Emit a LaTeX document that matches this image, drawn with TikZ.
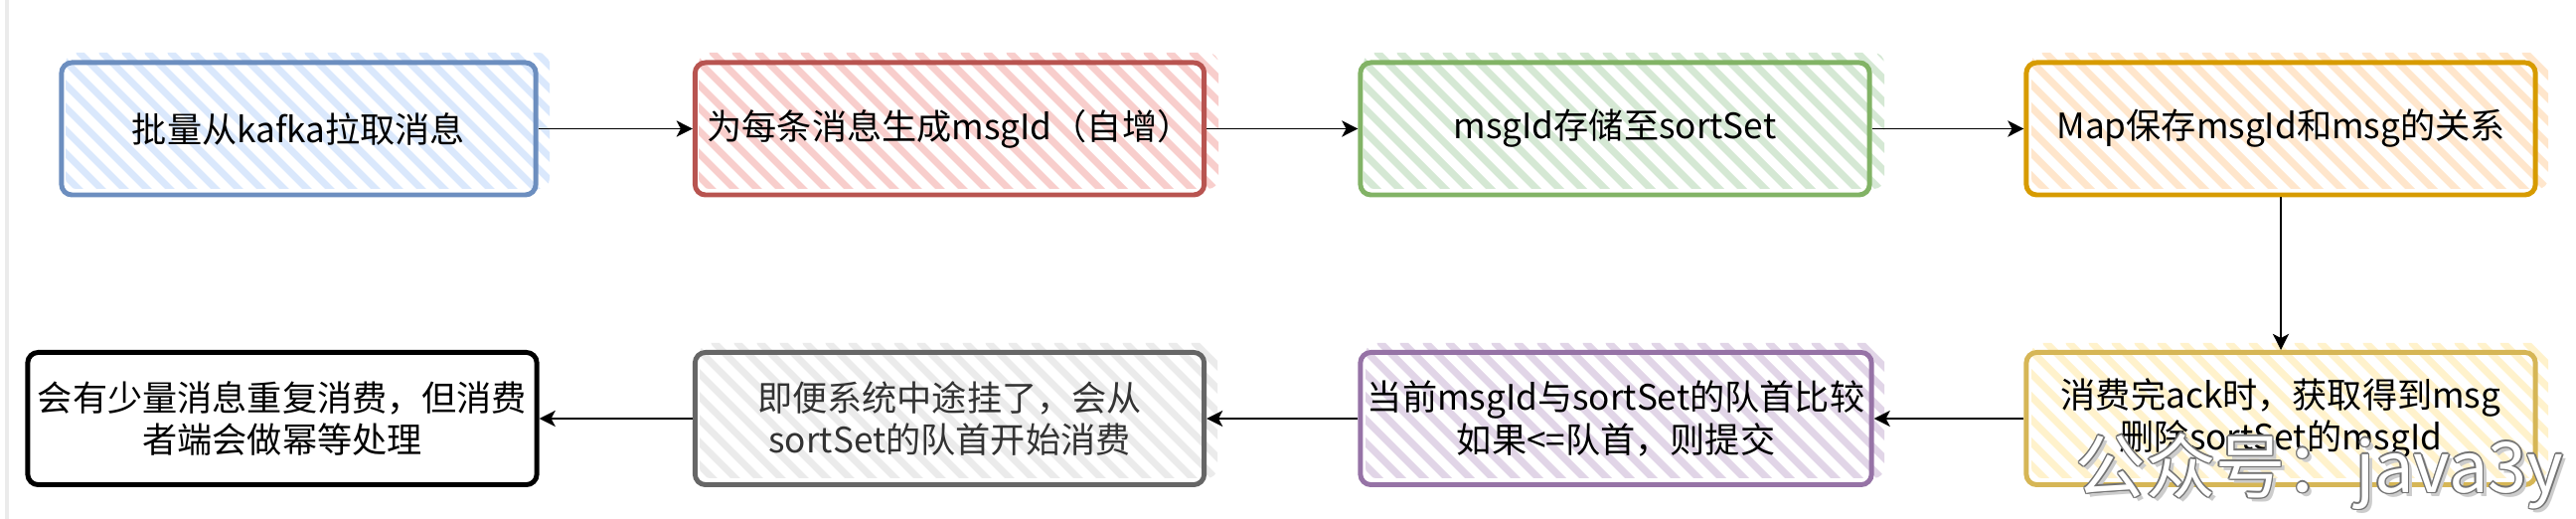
\documentclass[tikz,border=0pt]{standalone}
\usepackage{fontspec}
\newfontfamily\cjk{Noto Sans CJK SC}
\usetikzlibrary{arrows.meta}

\definecolor{blueFill}{HTML}{DAE8FC}\definecolor{blueLine}{HTML}{6C8EBF}
\definecolor{redFill}{HTML}{F8CECC}\definecolor{redLine}{HTML}{B85450}
\definecolor{greenFill}{HTML}{D5E8D4}\definecolor{greenLine}{HTML}{82B366}
\definecolor{orangeFill}{HTML}{FFE6CC}\definecolor{orangeLine}{HTML}{D79B00}
\definecolor{yellowFill}{HTML}{FFF2CC}\definecolor{yellowLine}{HTML}{D6B656}
\definecolor{purpleFill}{HTML}{E1D5E7}\definecolor{purpleLine}{HTML}{9673A6}
\definecolor{grayFill}{HTML}{EBEBEB}\definecolor{grayLine}{HTML}{666666}
\definecolor{grayText}{HTML}{333333}

% hatch behind a box: (left,top)(right,bottom){colour}
\def\hatchbox(#1,#2)(#3,#4)#5{%
  \begin{scope}
    \clip[rounded corners=3pt] ({#1+4},{#2-10}) rectangle ({#3+14},{#4-6});
    \foreach \i in {0,...,32}
      \draw[hatch, #5] ({#1-#4+23*\i+#2-10},{#2-10}) -- ({#1+23*\i},{#4});
  \end{scope}}

\tikzset{
  box/.style={draw, rounded corners=3pt, line width=1.4pt, minimum height=1.33cm,
    minimum width=5.12cm, align=center, inner sep=2pt, font=\cjk\fontsize{10}{12}\selectfont},
  flow/.style={-{Stealth[length=4.6pt,width=4.6pt,inset=1.2pt]}, line width=0.55pt},
  hatch/.style={line width=2pt, line cap=round},
  wmark/.style={font=\cjk\fontsize{20}{20}\selectfont, inner sep=0pt},
}

\begin{document}
\begin{tikzpicture}[x=0.01cm, y=-0.01cm]
  %%%%% START %%%%%
  \useasboundingbox (0,0) rectangle (2592,522);
  \draw[black!8, line width=1pt] (7,0) -- (7,522);

  \hatchbox(62,63)(539,196){blueFill}
  \hatchbox(699,63)(1212,196){redFill}
  \hatchbox(1368,63)(1882,196){greenFill}
  \hatchbox(2040,63)(2550,196){orangeFill}

  \hatchbox(700,355)(1211,487){grayFill}
  \hatchbox(1370,355)(1882,487){purpleFill}
  \hatchbox(2040,355)(2550,487){yellowFill}

  % top row
  \node[box, draw=blueLine, minimum width=4.77cm] (kafka) at (300.5,129.5) {批量从kafka拉取消息};
  \node[box, draw=redLine] (genid) at (955.5,129.5) {为每条消息生成msgId（自增）};
  \node[box, draw=greenLine] (store) at (1625,129.5) {msgId存储至sortSet};
  \node[box, draw=orangeLine] (mapsave) at (2295,129.5) {Map保存msgId和msg的关系};

  % bottom row
  \node[box, draw=yellowLine] (ack) at (2295,421) {消费完ack时，获取得到msg\\删除sortSet的msgId};
  \node[box, draw=purpleLine] (compare) at (1626,421) {当前msgId与sortSet的队首比较\\如果<=队首，则提交};
  \node[box, draw=grayLine, text=grayText] (restart) at (955.5,421) {即便系统中途挂了，会从\\sortSet的队首开始消费};
  \node[box, draw=black, fill=white] (dedup) at (284,421) {会有少量消息重复消费，但消费\\者端会做幂等处理};

  \draw[flow] (kafka) -- (genid);
  \draw[flow] (genid) -- (store);
  \draw[flow] (store) -- (mapsave);
  \draw[flow] (mapsave) -- (ack);
  \draw[flow] (ack) -- (compare);
  \draw[flow] (compare) -- (restart);
  \draw[flow] (restart) -- (dedup);

  % watermark
  \node[wmark, text=black!20] (wmshadow) at (2338,478) {公众号：java3y};
  \foreach \dx/\dy [count=\k] in {-1.5/0,1.5/0,0/-1.5,0/1.5,-1/-1,1/1,-1/1,1/-1}
    \node[wmark, text=black!55] (wmline\k) at ({2334+\dx},{474+\dy}) {公众号：java3y};
  \node[wmark, text=white] (wm) at (2334,474) {公众号：java3y};
  %%%%% END %%%%%
\end{tikzpicture}
\end{document}
